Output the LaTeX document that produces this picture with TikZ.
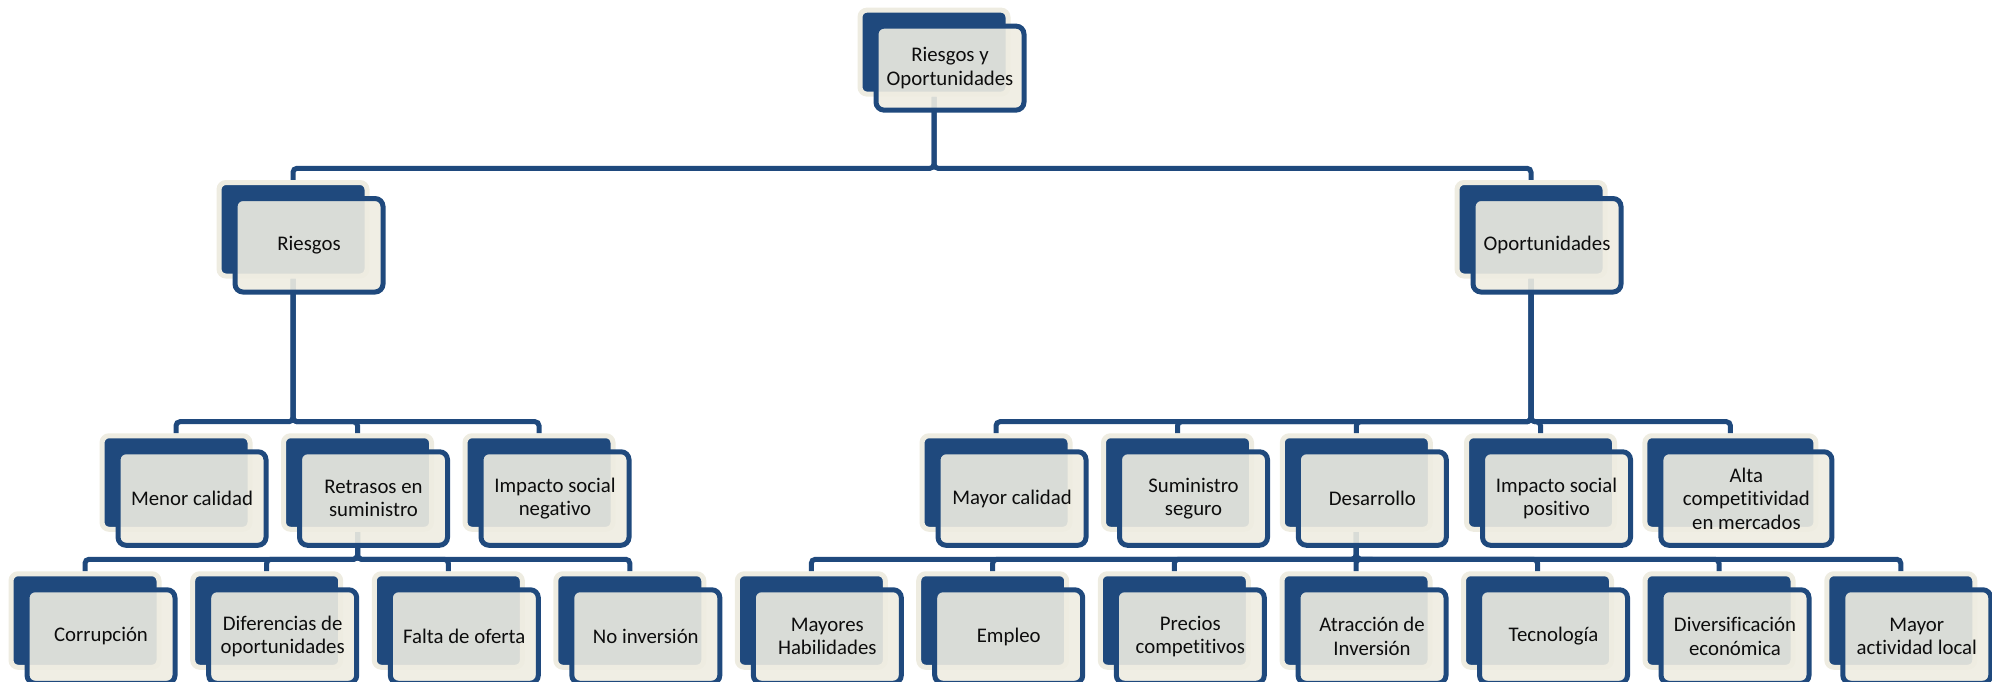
\documentclass[tikz,border=0pt]{standalone}
\usepackage{fontspec}
\setmainfont{Carlito}[Ligatures=CommonOff]
\usepackage{xcolor}
\usepackage{tikz}
\usetikzlibrary{backgrounds}

\definecolor{darkblue}{HTML}{1F497D}
\definecolor{cream}{HTML}{EEECE1}
\definecolor{inktext}{HTML}{0D0D0D}

\begin{document}
\begin{tikzpicture}[x=1pt, y=-1pt,
    backbox/.style={draw=cream, fill=darkblue, line width=5pt, rounded corners=7pt,
        minimum width=148pt, minimum height=93.5pt, inner sep=0pt},
    frontbox/.style={draw=darkblue, fill=cream, fill opacity=0.9, text opacity=1,
        line width=5pt, rounded corners=8pt, minimum width=148pt, minimum height=93.5pt,
        inner sep=0pt, align=center, text=inktext, font=\fontsize{20.8}{23.4}\selectfont},
    link/.style={draw=darkblue, line width=5pt, rounded corners=4pt}]

    \useasboundingbox (0,0) rectangle (1992,681);

    % raiz
    \node[backbox, minimum height=84pt] (top-b) at (934,52.1) {};
    \node[frontbox, minimum height=84pt] (top) at ([shift={(16,16)}]top-b.center) {Riesgos y\\Oportunidades};

    % ramas
    \node[backbox] (riesgos-b) at (293,229.25) {};
    \node[frontbox] (riesgos) at ([shift={(16,16)}]riesgos-b.center) {Riesgos};
    \node[backbox] (oport-b) at (1531,229.25) {};
    \node[frontbox] (oport) at ([shift={(16,16)}]oport-b.center) {Oportunidades};

    % tercer nivel
    \foreach \n/\x/\w/\t in {menor/176/148/{Menor calidad}, retrasos/357.5/148/{Retrasos en\\suministro},
        impneg/539/148/{Impacto social\\negativo}, mayor/996/148/{Mayor calidad},
        suministro/1177.5/148/{Suministro\\seguro}, desarrollo/1356.3/148/{Desarrollo},
        imppos/1540.5/148/{Impacto social\\positivo}, alta/1730.4/171/{Alta\\competitividad\\en mercados}}{
        \node[backbox, minimum width=\w pt] (\n-b) at (\x,482.5) {};
        \node[frontbox, minimum width=\w pt] (\n) at ([shift={(16,16)}]\n-b.center) {\t};
    }

    % cuarto nivel
    \foreach \n/\x/\t in {corrupcion/85/{Corrupción}, diferencias/266.7/{Diferencias de\\oportunidades},
        falta/448.3/{Falta de oferta}, noinv/629.8/{No inversión},
        habilidades/811.3/{Mayores\\Habilidades}, empleo/992.7/{Empleo},
        precios/1174.3/{Precios\\competitivos}, atraccion/1356/{Atracción de\\Inversión},
        tecnologia/1537.5/{Tecnología}, diversif/1719/{Diversificación\\económica},
        actividad/1900.8/{Mayor\\actividad local}}{
        \node[backbox] (\n-b) at (\x,620.5) {};
        \node[frontbox] (\n) at ([shift={(16,16)}]\n-b.center) {\t};
    }

    % barras horizontales
    \coordinate (bar-top) at (0,168.3);
    \coordinate (bar-riesgos) at (0,421.7);
    \coordinate (bar-oport) at (0,421.7);
    \coordinate (bar-retrasos) at (0,559.3);
    \coordinate (bar-desarrollo) at (0,559.3);

    \begin{pgfonlayer}{background}
    \foreach \p/\c in {top/riesgos, top/oport,
        riesgos/menor, riesgos/retrasos, riesgos/impneg,
        oport/mayor, oport/suministro, oport/desarrollo, oport/imppos, oport/alta,
        retrasos/corrupcion, retrasos/diferencias, retrasos/falta, retrasos/noinv,
        desarrollo/habilidades, desarrollo/empleo, desarrollo/precios, desarrollo/atraccion,
        desarrollo/tecnologia, desarrollo/diversif, desarrollo/actividad}
        \draw[link] (\p-b.south) -- (\p-b.south |- bar-\p) -| (\c-b.north);
    \end{pgfonlayer}
\end{tikzpicture}
\end{document}
